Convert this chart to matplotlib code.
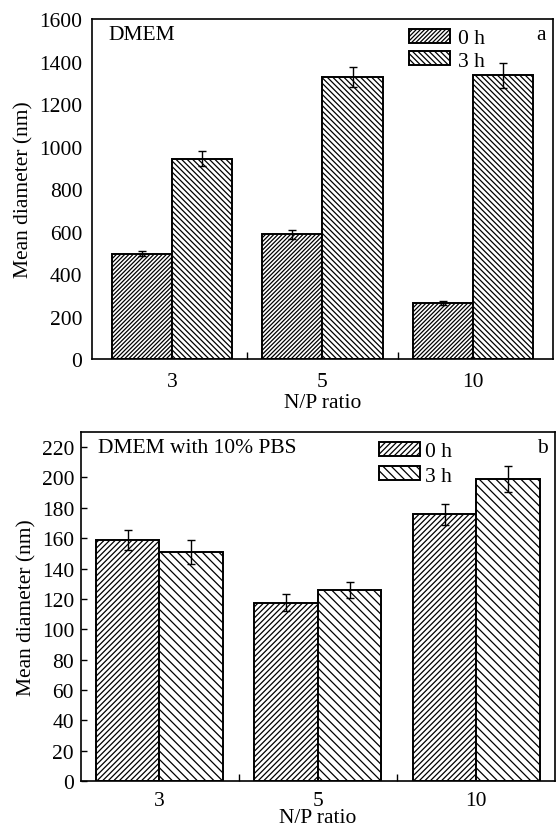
import numpy as np
import matplotlib
matplotlib.use("Agg")
import matplotlib.pyplot as plt

plt.rcParams['font.family'] = ['Liberation Serif', 'DejaVu Serif']
plt.rcParams['hatch.linewidth'] = 0.9

ratios = ["3", "5", "10"]
series = ["0 h", "3 h"]

# panel a: DMEM
dmem_0h = [495, 586, 265]
dmem_0h_err = [12, 23, 9]
dmem_3h = [943, 1328, 1335]
dmem_3h_err = [35, 46, 58]

# panel b: DMEM with 10% PBS
pbs_0h = [158.7, 117.5, 175.8]
pbs_0h_err = [6.6, 5.7, 7.0]
pbs_3h = [150.8, 126.0, 199.0]
pbs_3h_err = [7.7, 5.2, 8.3]

fs = 15.5
x = np.arange(len(ratios))
w = 0.4


def panel(ax, v0, e0, v1, e1, h0, h1, ylim, yticks, xlim, note, letter):
    ax.bar(x - w / 2, v0, w, color='white', edgecolor='black', linewidth=1.4,
           hatch=h0, label=series[0])
    ax.bar(x + w / 2, v1, w, color='white', edgecolor='black', linewidth=1.4,
           hatch=h1, label=series[1])
    ax.errorbar(x - w / 2, v0, yerr=e0, fmt='none', ecolor='black',
                elinewidth=1, capsize=3, capthick=1)
    ax.errorbar(x + w / 2, v1, yerr=e1, fmt='none', ecolor='black',
                elinewidth=1, capsize=3, capthick=1)
    ax.set_xlim(*xlim)
    ax.set_ylim(*ylim)
    ax.set_yticks(yticks)
    ax.set_xticks(x)
    ax.set_xticklabels(ratios)
    ax.set_xticks([0.5, 1.5], minor=True)
    ax.tick_params(axis='x', which='major', length=0, labelsize=fs, pad=9)
    ax.tick_params(axis='x', which='minor', direction='in', length=5, width=1)
    ax.set_xlabel("N/P ratio", fontsize=fs, labelpad=2)
    ax.set_ylabel("Mean diameter (nm)", fontsize=fs)
    for s in ax.spines.values():
        s.set_linewidth(1.2)
    ax.text(0.035, 0.955, note, transform=ax.transAxes, fontsize=fs,
            va='center', ha='left')
    ax.text(0.975, 0.955, letter, transform=ax.transAxes, fontsize=fs,
            va='center', ha='center')


fig = plt.figure(figsize=(5.56, 8.28), dpi=100)

ax1 = fig.add_axes([0.1655, 0.5652, 0.829, 0.4106])
panel(ax1, dmem_0h, dmem_0h_err, dmem_3h, dmem_3h_err, '////////', '\\' * 6,
      (0, 1600), np.arange(0, 1601, 200), (-0.535, 2.535), "DMEM", "a")
ax1.tick_params(axis='y', length=0, labelsize=fs, pad=7)
ax1.legend(loc='upper left', bbox_to_anchor=(0.688, 0.972), frameon=False,
           fontsize=fs, handlelength=1.9, handleheight=0.65,
           handletextpad=0.35, labelspacing=0.12, borderpad=0, borderaxespad=0)

ax2 = fig.add_axes([0.1457, 0.0556, 0.852, 0.4215])
panel(ax2, pbs_0h, pbs_0h_err, pbs_3h, pbs_3h_err, '//////', '\\' * 4,
      (0, 230), np.arange(0, 221, 20), (-0.494, 2.494), "DMEM with 10% PBS", "b")
ax2.tick_params(axis='y', direction='in', length=4, width=1, labelsize=fs, pad=5)
ax2.tick_params(axis='x', which='major', pad=7)
ax2.xaxis.labelpad = -1
ax2.legend(loc='upper left', bbox_to_anchor=(0.63, 0.972), frameon=False,
           fontsize=fs, handlelength=1.9, handleheight=0.65,
           handletextpad=0.2, labelspacing=0.2, borderpad=0, borderaxespad=0)

fig.savefig("out.png", dpi=100)
